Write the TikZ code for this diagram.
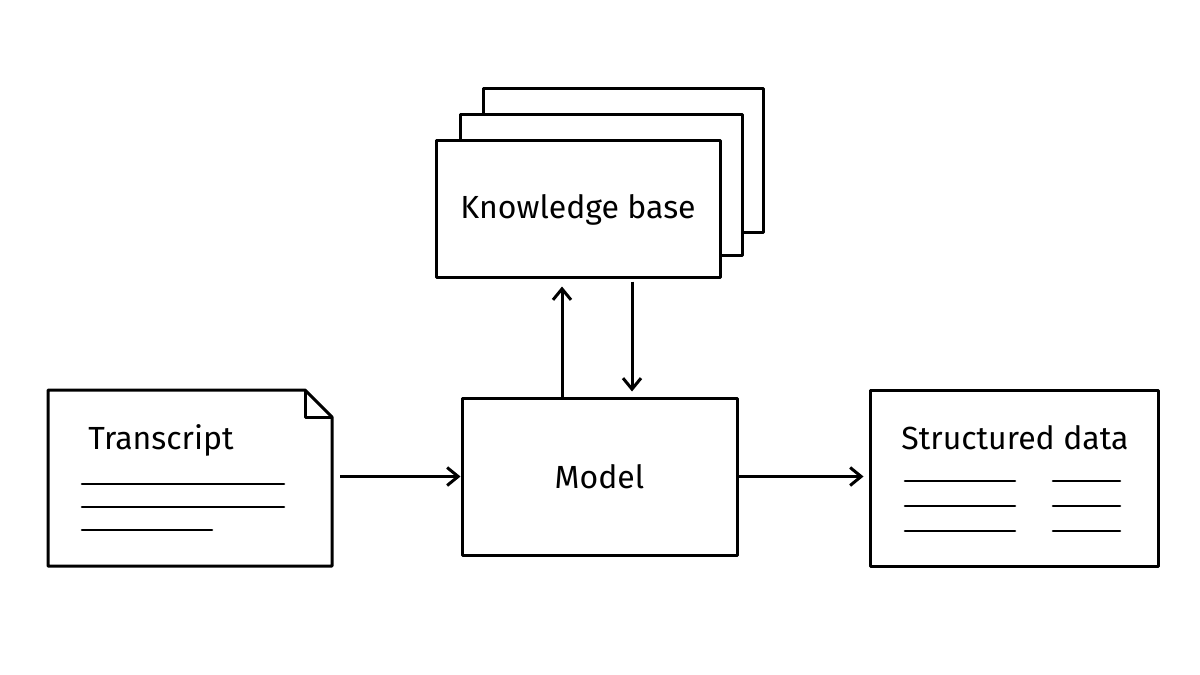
\documentclass[tikz,border=0pt]{standalone}
\usepackage{fontspec}
\setmainfont{Fira Sans}
\usetikzlibrary{arrows.meta,calc}

\tikzset{
  box/.style={draw, line width=3pt, fill=white, inner sep=0pt},
  txt/.style={font=\fontsize{32}{38}\selectfont},
  rule/.style={line width=2.6pt, line cap=round},
  flow/.style={-{Straight Barb[length=11pt,width=18pt,line width=3pt]}, line width=3pt}
}

\begin{document}
\begin{tikzpicture}[x=1pt, y=-1pt, line join=round]
		\useasboundingbox[fill=white] (0,0) rectangle (1200,675);
		
		% Knowledge base (stack)
		\draw[box] (483,88) rectangle (763,232);
		\draw[box] (460,114) rectangle (742,255);
		\node[box, minimum width=284pt, minimum height=137pt] (kb) at (578,208.5) {};
		\node[txt] (kbt) at (578,210) {Knowledge base};
		
		% Transcript
		\draw[box] (48,390) -- (305,390) -- (332,417) -- (332,566) -- (48,566) -- cycle;
		\draw[line width=3pt] (305,390) -- (305,417) -- (332,417);
		\coordinate (tr) at (332,476.5);
		\node[txt] (trt) at (161,440) {Transcript};
		\draw[rule] (82,484) -- (284,484);
		\draw[rule] (82,507) -- (284,507);
		\draw[rule] (82,530) -- (212,530);
		
		% Model
		\node[box, minimum width=275pt, minimum height=157pt, txt] (model) at (599.5,476.5) {Model};
		
		% Structured data
		\node[box, minimum width=288pt, minimum height=176pt] (sd) at (1014,478) {};
		\node[txt] (sdt) at (1015,438) {Structured data};
		\foreach \y in {481,506,531}{
			\draw[rule] (905,\y) -- (1015,\y);
			\draw[rule] (1053,\y) -- (1120,\y);}
		
		% Connectors
		\draw[flow] ($(tr)+(8,0)$) -- (model.west);
		\draw[flow] (model.east) -- ($(sd.west)+(-5,-1.5)$);
		\draw[flow] (model.north -| 562,0) -- ($(kb.south -| 562,0)+(0,8)$);
		\draw[flow] ($(kb.south -| 632,0)+(0,3)$) -- ($(model.north -| 632,0)+(0,-5)$);
	\end{tikzpicture}
\end{document}
